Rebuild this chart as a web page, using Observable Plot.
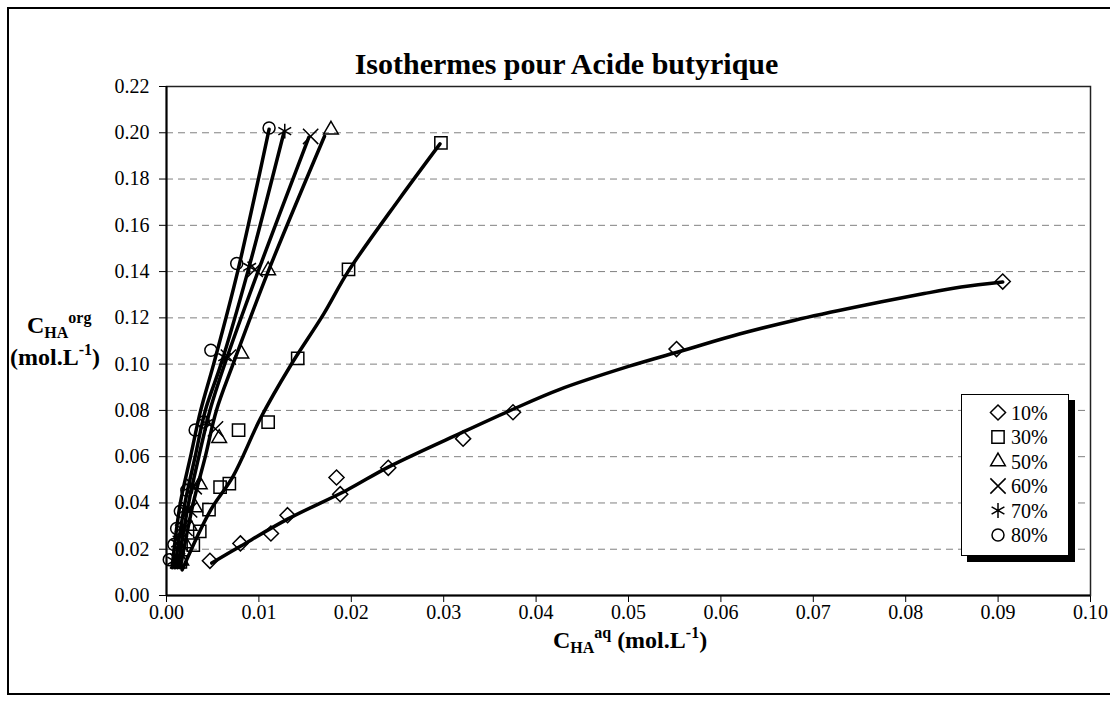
<!DOCTYPE html>
<html><head><meta charset="utf-8">
<script src="https://cdn.jsdelivr.net/npm/d3@7"></script>
<script src="https://cdn.jsdelivr.net/npm/@observablehq/plot@0.6"></script>
<style>
body{margin:0;background:#fff;}
#wrap{position:relative;width:1110px;height:702px;overflow:hidden;font-family:"Liberation Serif",serif;background:#fff;}
#wrap svg.main{position:absolute;left:0;top:0;}
#frame{position:absolute;left:7px;top:7px;width:1130px;height:688px;border:2px solid #000;box-sizing:border-box;pointer-events:none;}
#legend{position:absolute;left:961px;top:394px;width:108px;height:162px;border:1px solid #000;background:#fff;box-shadow:6px 6px 0 #000;box-sizing:border-box;}
#legend text{font-family:"Liberation Serif",serif;}
</style></head>
<body><div id="wrap"><div id="frame"></div></div>
<script>
const title = "Isothermes pour Acide butyrique";
const series = ["10%", "30%", "50%", "60%", "70%", "80%"];
const xTicks = [0, 0.01, 0.02, 0.03, 0.04, 0.05, 0.06, 0.07, 0.08, 0.09, 0.10];
const yTicks = [0, 0.02, 0.04, 0.06, 0.08, 0.10, 0.12, 0.14, 0.16, 0.18, 0.20, 0.22];

// measured points
const x10 = [0.0047, 0.0080, 0.0113, 0.0131, 0.0184, 0.0188, 0.0240, 0.0321, 0.0375, 0.0552, 0.0905];
const y10 = [0.0150, 0.0225, 0.0268, 0.0347, 0.0510, 0.0438, 0.0552, 0.0678, 0.0792, 0.1065, 0.1357];
const x30 = [0.0015, 0.0029, 0.0036, 0.0046, 0.0058, 0.0068, 0.0078, 0.0110, 0.0142, 0.0197, 0.0297];
const y30 = [0.0145, 0.0218, 0.0277, 0.0371, 0.0468, 0.0484, 0.0715, 0.0749, 0.1025, 0.1410, 0.1956];
const x50 = [0.0016, 0.0020, 0.0025, 0.0031, 0.0036, 0.0057, 0.0081, 0.0110, 0.0178];
const y50 = [0.0150, 0.0225, 0.0300, 0.0380, 0.0480, 0.0680, 0.1045, 0.1405, 0.2013];
const x60 = [0.0012, 0.0015, 0.0020, 0.0025, 0.0030, 0.0053, 0.0067, 0.0096, 0.0156];
const y60 = [0.0150, 0.0225, 0.0290, 0.0370, 0.0470, 0.0720, 0.1030, 0.1410, 0.1984];
const x70 = [0.0008, 0.0012, 0.0016, 0.0020, 0.0026, 0.0043, 0.0063, 0.0090, 0.0128];
const y70 = [0.0150, 0.0225, 0.0290, 0.0370, 0.0470, 0.0745, 0.1030, 0.1420, 0.2007];
const x80 = [0.0003, 0.0008, 0.0011, 0.0015, 0.0022, 0.0031, 0.0040, 0.0048, 0.0076, 0.0111];
const y80 = [0.0155, 0.0220, 0.0290, 0.0364, 0.0455, 0.0715, 0.0750, 0.1060, 0.1435, 0.2021];

// trend lines
const lx10 = [0.0049, 0.0080, 0.0131, 0.0195, 0.0240, 0.0320, 0.0375, 0.0425, 0.0500, 0.0560, 0.0620, 0.0680, 0.0750, 0.0820, 0.0860, 0.0905];
const ly10 = [0.0140, 0.0213, 0.0330, 0.0455, 0.0555, 0.0705, 0.0805, 0.0890, 0.0990, 0.1060, 0.1130, 0.1190, 0.1250, 0.1305, 0.1333, 0.1355];
const lx30 = [0.0017, 0.0047, 0.0072, 0.0102, 0.0134, 0.0170, 0.0197, 0.0252, 0.0296];
const ly30 = [0.0111, 0.0364, 0.0515, 0.0768, 0.0992, 0.1216, 0.1403, 0.1714, 0.1952];
const lx50 = [0.0015, 0.0029, 0.0042, 0.0054, 0.0072, 0.0110, 0.0171];
const ly50 = [0.0120, 0.0400, 0.0600, 0.0800, 0.1000, 0.1400, 0.1985];
const lx60 = [0.0012, 0.0024, 0.0035, 0.0047, 0.0063, 0.0099, 0.0154];
const ly60 = [0.0120, 0.0400, 0.0600, 0.0800, 0.1000, 0.1400, 0.1980];
const lx70 = [0.0009, 0.0020, 0.0031, 0.0042, 0.0059, 0.0088, 0.0127];
const ly70 = [0.0120, 0.0400, 0.0600, 0.0800, 0.1000, 0.1400, 0.2000];
const lx80 = [0.0006, 0.0015, 0.0026, 0.0037, 0.0051, 0.0077, 0.0111];
const ly80 = [0.0120, 0.0400, 0.0600, 0.0800, 0.1000, 0.1400, 0.2015];

const pts = [[x10,y10],[x30,y30],[x50,y50],[x60,y60],[x70,y70],[x80,y80]];
const lns = [[lx10,ly10],[lx30,ly30],[lx50,ly50],[lx60,ly60],[lx70,ly70],[lx80,ly80]];
const symbols = ["diamond2", "square2", "triangle2", "times", "asterisk", "circle"];
const radii = [6.8, 7.8, 7, 7, 7, 6];
const d3sym = {diamond2: d3.symbolDiamond2, square2: d3.symbolSquare2, triangle2: d3.symbolTriangle2, times: d3.symbolTimes, asterisk: d3.symbolAsterisk, circle: d3.symbolCircle};

const toRows = ([xs, ys]) => xs.map((x, i) => ({x, y: ys[i]}));

const marks = [
  Plot.gridY(yTicks.filter(d => d > 0 && d < 0.22), {stroke: "#808080", strokeOpacity: 1, strokeWidth: 1, strokeDasharray: "7,5"}),
  Plot.frame({stroke: "#222", strokeWidth: 1.5}),
  Plot.ruleX([0], {stroke: "#000", strokeWidth: 2}),
  Plot.ruleY([0], {stroke: "#000", strokeWidth: 2})
];
lns.forEach(l => marks.push(Plot.line(toRows(l), {x: "x", y: "y", stroke: "#000", strokeWidth: 3.5, curve: "catmull-rom"})));
pts.forEach((p, i) => marks.push(Plot.dot(toRows(p), {x: "x", y: "y", symbol: symbols[i], r: radii[i], stroke: "#000", strokeWidth: 1.5, fill: "none"})));
marks.push(Plot.text([title], {frameAnchor: "top-left", dx: 400, dy: -34, text: d => d, fontSize: 30, fontWeight: "bold", fill: "#000", textAnchor: "middle"}));

const chart = Plot.plot({
  width: 1110, height: 702,
  marginLeft: 166, marginRight: 20, marginTop: 86, marginBottom: 107,
  style: {fontFamily: "Liberation Serif", fontSize: "20px", color: "#000", background: "transparent", overflow: "visible"},
  x: {domain: [0, 0.10], ticks: xTicks, tickFormat: d3.format(".2f"), label: null, tickSize: 7, tickPadding: 2},
  y: {domain: [0, 0.22], ticks: yTicks, tickFormat: d3.format(".2f"), label: null, tickSize: 7, tickPadding: 10},
  marks
});
chart.classList.add("main");
document.getElementById("wrap").insertBefore(chart, document.getElementById("frame"));

const svg = d3.select(chart);
function addLabel(x, y, anchor, parts) {
  const t = svg.append("text").attr("x", x).attr("y", y).attr("text-anchor", anchor)
    .attr("font-family", "Liberation Serif").attr("font-weight", "bold").attr("font-size", 24).attr("fill", "#000");
  parts.forEach(p => t.append("tspan").text(p[0]).attr("font-size", p[1]).attr("dy", p[2]));
}
addLabel(630, 648, "middle", [["C", 24, 0], ["HA", 16, 5], ["aq", 16, -15], [" (mol.L", 24, 10], ["-1", 16, -10], [")", 24, 10]]);
addLabel(27, 333, "start", [["C", 24, 0], ["HA", 16, 5], ["org", 16, -15]]);
addLabel(10, 365, "start", [["(mol.L", 24, 0], ["-1", 16, -10], [")", 24, 10]]);

const legend = d3.select("#wrap").append("div").attr("id", "legend");
const lsvg = legend.append("svg").attr("width", 106).attr("height", 160);
series.forEach((s, i) => {
  const cy = 17.5 + i * 24.5;
  lsvg.append("path").attr("transform", `translate(36,${cy})`)
    .attr("d", d3.symbol(d3sym[symbols[i]], Math.PI * radii[i] * radii[i])())
    .attr("fill", "none").attr("stroke", "#000").attr("stroke-width", 1.5);
  lsvg.append("text").attr("x", 49).attr("y", cy).attr("dy", "0.35em")
    .attr("font-family", "Liberation Serif").attr("font-size", 20).attr("fill", "#000").text(s);
});
</script>
</body></html>
